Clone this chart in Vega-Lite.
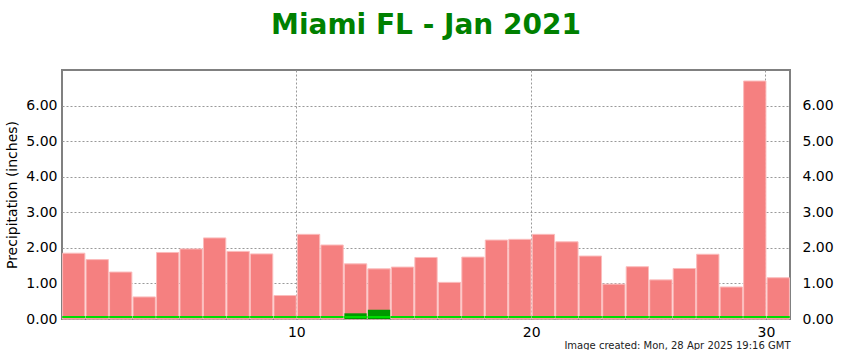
{
  "$schema": "https://vega.github.io/schema/vega-lite/v6.json",
  "width": 728,
  "height": 249,
  "autosize": "none",
  "padding": {"left": 62, "top": 70, "right": 60, "bottom": 31},
  "background": "white",
  "title": {
    "text": "Miami FL - Jan 2021",
    "color": "#008000",
    "fontSize": 28,
    "font": "DejaVu Sans",
    "fontWeight": "bold",
    "anchor": "middle",
    "offset": 30
  },
  "config": {
    "view": {"stroke": "#808080", "strokeWidth": 2},
    "axis": {
      "labelFont": "DejaVu Sans",
      "labelFontSize": 14,
      "labelColor": "#000000",
      "titleFont": "DejaVu Sans",
      "titleColor": "#000000",
      "titleFontWeight": "normal",
      "domain": false,
      "ticks": false,
      "gridColor": "#999999",
      "gridDash": [2, 2],
      "gridWidth": 1
    }
  },
  "data": {
    "values": [
      {"day": 1, "normal": 1.85, "observed": 0},
      {"day": 2, "normal": 1.67, "observed": 0},
      {"day": 3, "normal": 1.32, "observed": 0},
      {"day": 4, "normal": 0.62, "observed": 0},
      {"day": 5, "normal": 1.87, "observed": 0},
      {"day": 6, "normal": 1.97, "observed": 0},
      {"day": 7, "normal": 2.28, "observed": 0},
      {"day": 8, "normal": 1.90, "observed": 0},
      {"day": 9, "normal": 1.83, "observed": 0},
      {"day": 10, "normal": 0.66, "observed": 0},
      {"day": 11, "normal": 2.38, "observed": 0},
      {"day": 12, "normal": 2.08, "observed": 0},
      {"day": 13, "normal": 1.55, "observed": 0.16},
      {"day": 14, "normal": 1.41, "observed": 0.26},
      {"day": 15, "normal": 1.46, "observed": 0},
      {"day": 16, "normal": 1.73, "observed": 0},
      {"day": 17, "normal": 1.03, "observed": 0},
      {"day": 18, "normal": 1.74, "observed": 0},
      {"day": 19, "normal": 2.22, "observed": 0},
      {"day": 20, "normal": 2.24, "observed": 0},
      {"day": 21, "normal": 2.38, "observed": 0},
      {"day": 22, "normal": 2.17, "observed": 0},
      {"day": 23, "normal": 1.77, "observed": 0},
      {"day": 24, "normal": 0.98, "observed": 0},
      {"day": 25, "normal": 1.47, "observed": 0},
      {"day": 26, "normal": 1.10, "observed": 0},
      {"day": 27, "normal": 1.42, "observed": 0},
      {"day": 28, "normal": 1.82, "observed": 0},
      {"day": 29, "normal": 0.90, "observed": 0},
      {"day": 30, "normal": 6.69, "observed": 0},
      {"day": 31, "normal": 1.16, "observed": 0}
    ]
  },
  "encoding": {
    "x": {
      "field": "day",
      "type": "ordinal",
      "scale": {"paddingInner": 0.05, "paddingOuter": 0.025},
      "axis": {
        "values": [10, 20, 30],
        "bandPosition": 1,
        "labelOffset": 11.7,
        "labelAngle": 0,
        "labelPadding": 6,
        "grid": true,
        "title": "Image created: Mon, 28 Apr 2025 19:16 GMT",
        "titleAnchor": "end",
        "titleFontSize": 10,
        "titleColor": "#222222",
        "titlePadding": 1
      }
    }
  },
  "layer": [
    {
      "mark": {"type": "bar", "fill": "#f58080", "stroke": "#fbbcbc", "strokeWidth": 1},
      "encoding": {
        "y": {
          "field": "normal",
          "type": "quantitative",
          "scale": {"domain": [0, 7], "nice": false},
          "axis": {
            "orient": "left",
            "values": [0, 1, 2, 3, 4, 5, 6],
            "format": ".2f",
            "grid": true,
            "labelPadding": 5,
            "title": "Precipitation (inches)",
            "titleFontSize": 14,
            "titlePadding": 6
          }
        }
      }
    },
    {
      "mark": {"type": "bar", "fill": "#009900"},
      "encoding": {
        "y": {
          "field": "observed",
          "type": "quantitative",
          "scale": {"domain": [0, 7], "nice": false},
          "axis": {
            "orient": "right",
            "values": [0, 1, 2, 3, 4, 5, 6],
            "format": ".2f",
            "grid": false,
            "labelPadding": 12,
            "title": null
          }
        }
      }
    },
    {
      "mark": {"type": "tick", "color": "#00dd00", "thickness": 2, "yOffset": -2, "orient": "horizontal", "opacity": 1},
      "encoding": {
        "y": {"datum": 0, "type": "quantitative", "axis": null},
        "size": {"value": 23}
      }
    }
  ],
  "resolve": {"axis": {"y": "independent"}}
}
